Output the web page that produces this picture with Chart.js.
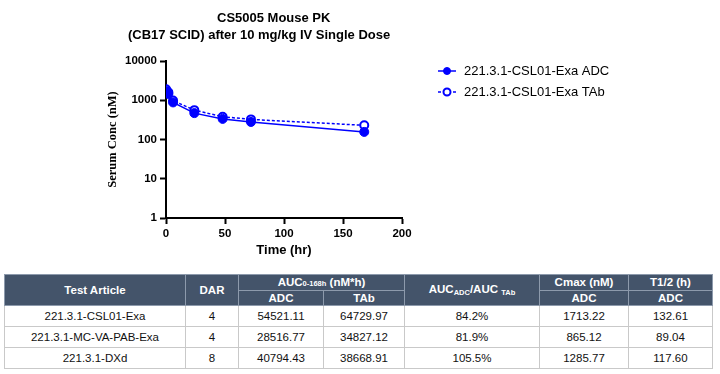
<!DOCTYPE html>
<html><head><meta charset="utf-8">
<script src="https://cdn.jsdelivr.net/npm/chart.js@4/dist/chart.umd.min.js"></script>
<style>
html,body{margin:0;padding:0;background:#fff;width:720px;height:374px;overflow:hidden;font-family:"Liberation Sans",Arial,sans-serif;}
#wrap{position:relative;width:720px;height:374px;}
canvas{position:absolute;left:0;top:0;}
.t{position:absolute;font-weight:bold;font-size:13px;line-height:15px;white-space:nowrap;color:#000;}
table{position:absolute;left:4px;top:274px;border-collapse:collapse;table-layout:fixed;width:708px;font-size:11.5px;color:#111;}
td,th{padding:0;text-align:center;border:1px solid #c9c9c9;white-space:nowrap;overflow:hidden;line-height:13px;}
th{background:#44546A;color:#fff;font-weight:bold;border-color:#8d9aac;}
tr.h1 th{height:15px;}
tr.h2 th{height:14px;}
tbody td{height:20px;}
.sb{font-size:7.5px;}
.sl{font-size:7.5px;position:relative;top:2px;}
</style></head>
<body><div id="wrap">
<canvas id="c" width="720" height="272"></canvas>
<div class="t" style="left:217px;top:10px;">CS5005 Mouse PK</div>
<div class="t" style="left:128px;top:27px;">(CB17 SCID) after 10 mg/kg IV Single Dose</div>
<table id="tbl">
<colgroup><col style="width:181px"><col style="width:53px"><col style="width:85px"><col style="width:81px"><col style="width:135px"><col style="width:89px"><col style="width:84px"></colgroup>
<thead>
<tr class="h1"><th rowspan="2">Test Article</th><th rowspan="2">DAR</th><th colspan="2">AUC<span class="sb">0-168h</span> (nM*h)</th><th rowspan="2">AUC<span class="sl">ADC</span>/AUC <span class="sl">TAb</span></th><th>Cmax (nM)</th><th>T1/2 (h)</th></tr>
<tr class="h2"><th>ADC</th><th>TAb</th><th>ADC</th><th>ADC</th></tr>
</thead>
<tbody id="tb"></tbody>
</table>
</div>
<script>
// ---- chart data ----
const times = [0.083, 2, 6, 24, 48, 72, 168];
const adcConc = [1713, 1450, 880, 470, 335, 280, 156];
const tabConc = [1900, 1600, 980, 560, 380, 325, 230];
const seriesLabels = ['221.3.1-CSL01-Exa ADC', '221.3.1-CSL01-Exa TAb'];
const yTickValues = [1, 10, 100, 1000, 10000];
const xTickValues = [0, 50, 100, 150, 200];
// ---- table data ----
const articles = ['221.3.1-CSL01-Exa', '221.3.1-MC-VA-PAB-Exa', '221.3.1-DXd'];
const dar = ['4', '4', '8'];
const aucAdc = ['54521.11', '28516.77', '40794.43'];
const aucTab = ['64729.97', '34827.12', '38668.91'];
const aucRatio = ['84.2%', '81.9%', '105.5%'];
const cmaxAdc = ['1713.22', '865.12', '1285.77'];
const halfLife = ['132.61', '89.04', '117.60'];

const tb = document.getElementById('tb');
articles.forEach((a, i) => {
  const tr = document.createElement('tr');
  [a, dar[i], aucAdc[i], aucTab[i], aucRatio[i], cmaxAdc[i], halfLife[i]].forEach(v => {
    const td = document.createElement('td'); td.textContent = v; tr.appendChild(td);
  });
  tb.appendChild(tr);
});

const blue = '#0000ff';
const legendPlugin = {
  id: 'customLegend',
  afterDraw(chart) {
    const ctx = chart.ctx;
    const ys = [71, 92];
    chart.data.datasets.forEach((ds, i) => {
      const y = ys[i];
      ctx.save();
      ctx.strokeStyle = ds.borderColor;
      ctx.lineWidth = ds.borderWidth;
      ctx.setLineDash(ds.borderDash || []);
      ctx.beginPath(); ctx.moveTo(438, y); ctx.lineTo(456, y); ctx.stroke();
      ctx.setLineDash([]);
      ctx.beginPath(); ctx.arc(447, y, 3.5, 0, Math.PI * 2);
      ctx.fillStyle = ds.pointBackgroundColor; ctx.fill();
      ctx.lineWidth = ds.pointBorderWidth; ctx.stroke();
      ctx.fillStyle = '#000';
      ctx.font = '13px "Liberation Sans", Arial, sans-serif';
      ctx.textBaseline = 'middle';
      ctx.fillText(ds.label, 464, y);
      ctx.restore();
    });
  }
};

const tickFont = {family: '"Liberation Sans", Arial, sans-serif', size: 11.5, weight: 'bold'};
new Chart(document.getElementById('c'), {
  type: 'line',
  data: {
    datasets: [
      {label: seriesLabels[0], data: times.map((t, i) => ({x: t, y: adcConc[i]})),
       borderColor: blue, backgroundColor: blue, pointBackgroundColor: blue, pointBorderColor: blue,
       borderWidth: 1.5, pointRadius: 4.5, pointBorderWidth: 1, tension: 0, fill: false},
      {label: seriesLabels[1], data: times.map((t, i) => ({x: t, y: tabConc[i]})),
       borderColor: blue, backgroundColor: '#fff', pointBackgroundColor: '#fff', pointBorderColor: blue,
       borderWidth: 1.5, borderDash: [3, 2], pointRadius: 4, pointBorderWidth: 2, tension: 0, fill: false}
    ]
  },
  options: {
    responsive: false, animation: false, devicePixelRatio: 1,
    layout: {padding: {top: 61, right: 318, left: 0, bottom: 0}},
    plugins: {legend: {display: false}, title: {display: false}, tooltip: {enabled: false}},
    scales: {
      x: {
        type: 'linear', min: 0, max: 200,
        afterBuildTicks: s => { s.ticks = xTickValues.map(v => ({value: v})); },
        afterFit: s => { s.height = 54; },
        grid: {display: true, drawOnChartArea: false, drawTicks: true, tickLength: 6, tickWidth: 2, tickColor: '#000'},
        border: {display: true, color: '#000', width: 2},
        ticks: {font: tickFont, color: '#000', padding: 3, maxRotation: 0, callback: v => String(v)},
        title: {display: true, text: 'Time (hr)', color: '#000',
                font: {family: '"Liberation Sans", Arial, sans-serif', size: 13, weight: 'bold'},
                padding: {top: 0, bottom: 14}}
      },
      y: {
        type: 'logarithmic', min: 1, max: 10000,
        afterBuildTicks: s => { s.ticks = yTickValues.map(v => ({value: v})); },
        afterFit: s => { s.width = 166; },
        grid: {display: true, drawOnChartArea: false, drawTicks: true, tickLength: 6, tickWidth: 2, tickColor: '#000'},
        border: {display: true, color: '#000', width: 2},
        ticks: {font: tickFont, color: '#000', padding: 3, callback: v => String(v)},
        title: {display: true, text: 'Serum Conc (nM)', color: '#000',
                font: {family: '"Liberation Serif", "Times New Roman", serif', size: 12.5, weight: 'bold'},
                padding: {top: 105.5, bottom: 0}}
      }
    }
  },
  plugins: [legendPlugin]
});
</script>
</body></html>
